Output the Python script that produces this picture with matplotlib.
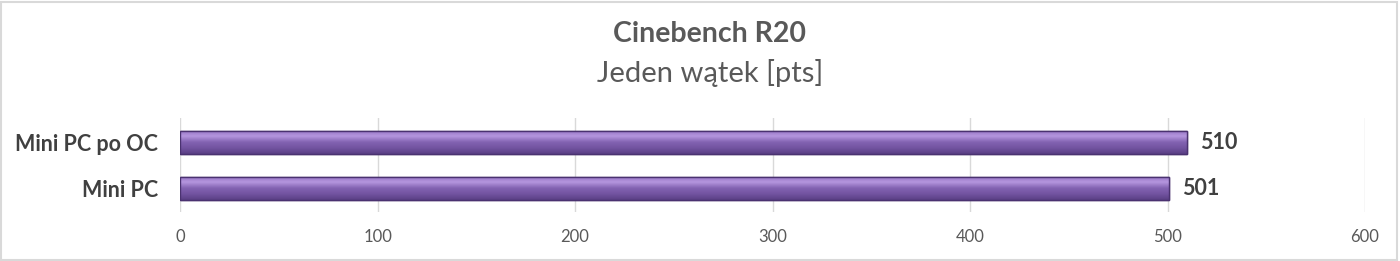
import numpy as np
import matplotlib.pyplot as plt
from matplotlib.patches import Rectangle
from matplotlib.colors import LinearSegmentedColormap

categories = ['Mini PC', 'Mini PC po OC']
values = [501, 510]
xticks = [0, 100, 200, 300, 400, 500, 600]

plt.rcParams['font.family'] = ['Lato', 'DejaVu Sans']

fig = plt.figure(figsize=(14, 2.61), dpi=100)
ax = fig.add_axes([0.1286, 0.188, 0.8464, 0.36])

bars = ax.barh(range(len(categories)), values, height=0.5, color='#7B5AA6',
               edgecolor='#4A3270', linewidth=1.0, zorder=3)

# vertical gradient inside each bar (light top, dark bottom)
grad = np.linspace(0, 1, 256).reshape(-1, 1)
cmap = LinearSegmentedColormap.from_list('bar', ['#5A3F84', '#7253A0', '#8363B2', '#B596DE', '#9272C2'])
for b in bars:
    x0, y0 = b.get_x(), b.get_y()
    w, h = b.get_width(), b.get_height()
    im = ax.imshow(grad, extent=[x0, x0 + w, y0, y0 + h], origin='lower',
                   cmap=cmap, aspect='auto', zorder=3.5)
    im.set_clip_path(b)
    ax.add_patch(Rectangle((x0, y0), w, h, fill=False, edgecolor='#4A3270',
                           linewidth=1.0, zorder=4))
    ax.annotate(str(int(w)), (x0 + w, y0 + h / 2), xytext=(9, 0),
                textcoords='offset points', va='center', ha='left',
                fontsize=15.5, fontweight='bold', color='#404040')

ax.set_xlim(0, 600)
ax.set_ylim(-0.5, 1.54)
ax.set_xticks(xticks)
ax.set_xticklabels([str(t) for t in xticks], fontsize=12, color='#595959')
ax.set_yticks(range(len(categories)))
ax.set_yticklabels(categories, fontsize=15.5, fontweight='bold', color='#404040')
ax.tick_params(axis='both', length=0)
ax.tick_params(axis='x', pad=12)
ax.tick_params(axis='y', pad=16)
ax.grid(axis='x', color='#D9D9D9', linewidth=1.0, zorder=0)
for s in ax.spines.values():
    s.set_visible(False)

fig.text(0.507, 0.87, 'Cinebench R20', ha='center', va='center',
         fontsize=20.5, fontweight='bold', color='#595959')
fig.text(0.507, 0.72, 'Jeden wątek [pts]', ha='center', va='center',
         fontsize=21, color='#595959')

fig.patches.append(Rectangle((0.001, 0.004), 0.997, 0.99, transform=fig.transFigure,
                             fill=False, edgecolor='#D9D9D9', linewidth=1.5))

fig.savefig('out.png', dpi=100)
